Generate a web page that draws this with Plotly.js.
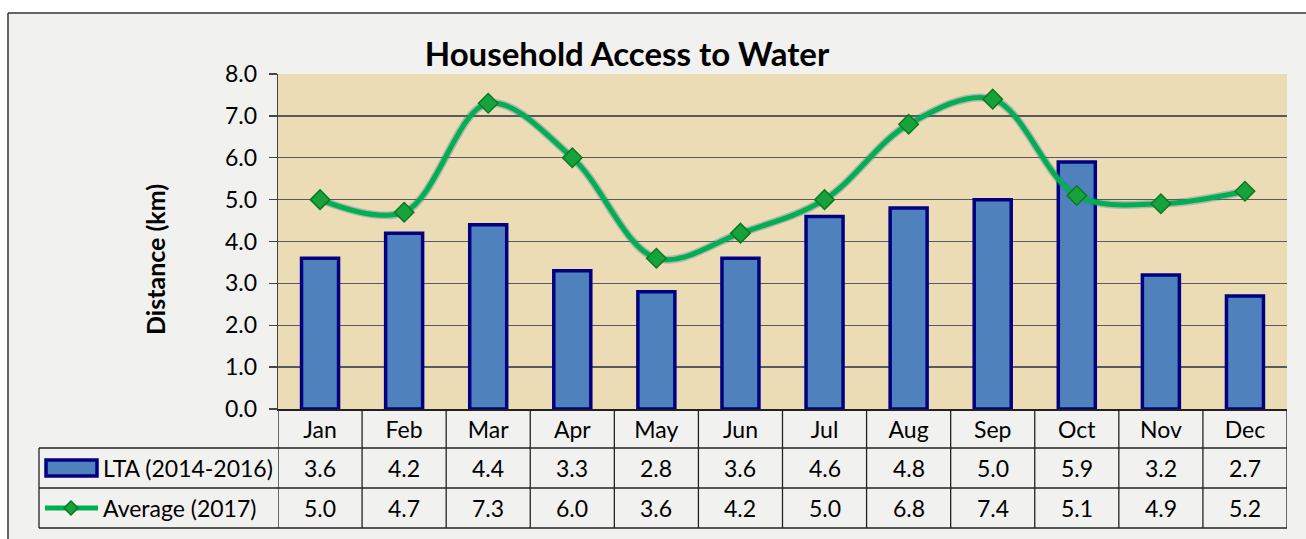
<!DOCTYPE html>
<html>
<head>
<meta charset="utf-8">
<script src="https://cdn.plot.ly/plotly-3.0.1.min.js"></script>
<style>html,body{margin:0;padding:0;background:#fff;}#chart{width:1306px;height:539px;}</style>
</head>
<body>
<div id="chart"></div>
<script>
const months = ["Jan","Feb","Mar","Apr","May","Jun","Jul","Aug","Sep","Oct","Nov","Dec"];
const ltaValues = [3.6,4.2,4.4,3.3,2.8,3.6,4.6,4.8,5.0,5.9,3.2,2.7];
const avgValues = [5.0,4.7,7.3,6.0,3.6,4.2,5.0,6.8,7.4,5.1,4.9,5.2];
const ltaName = "LTA (2014-2016)";
const avgName = "Average (2017)";
const chartTitle = "Household Access to Water";
const yTitle = "Distance (km)";

const W = 1306, H = 539;
const L = 278, R = 19, T = 74, B = 130;
const plotW = W - L - R, plotH = H - T - B;
const px2x = p => (p - L) / plotW;
const py2y = p => (H - B - p) / plotH;

const FONT = "Lato, 'Open Sans', sans-serif";
const FS = 23;
const lineCol = "#222222";

const traces = [
  {
    type: "bar", x: months, y: ltaValues, name: ltaName, width: 0.44,
    marker: {color: "#4F81BD", line: {color: "#000080", width: 3.5}},
    hoverinfo: "skip", showlegend: false
  },
  {
    type: "scatter", mode: "lines", x: months, y: avgValues,
    line: {color: "rgba(70,110,170,0.35)", width: 8, shape: "spline", smoothing: 1},
    hoverinfo: "skip", showlegend: false
  },
  {
    type: "scatter", mode: "lines+markers", x: months, y: avgValues, name: avgName,
    line: {color: "#00B050", width: 5, shape: "spline", smoothing: 1},
    marker: {symbol: "diamond", size: 15, color: "#16A23C", line: {color: "#0A7A1E", width: 1.5}},
    hoverinfo: "skip", showlegend: false
  }
];

const shapes = [];
const annotations = [];
shapes.push({type:"rect", xref:"paper", yref:"paper", x0:px2x(-5), x1:px2x(W+5), y0:py2y(13), y1:py2y(-5), fillcolor:"#ffffff", line:{width:0}, layer:"below"});
shapes.push({type:"rect", xref:"paper", yref:"paper", x0:px2x(-5), x1:px2x(8), y0:py2y(H+5), y1:py2y(-5), fillcolor:"#ffffff", line:{width:0}, layer:"below"});
shapes.push({type:"line", xref:"paper", yref:"paper", x0:px2x(8), x1:px2x(W+5), y0:py2y(13), y1:py2y(13), line:{color:"#333", width:1.5}});
shapes.push({type:"line", xref:"paper", yref:"paper", x0:px2x(8), x1:px2x(8), y0:py2y(13), y1:py2y(H+5), line:{color:"#333", width:1.5}});

const rowTop = 409, r1 = 448, r2 = 488, r3 = 528;
const tableLeft = 39;
[r1, r2, r3].forEach(py => {
  shapes.push({type:"line", xref:"paper", yref:"paper", x0:px2x(tableLeft), x1:1, y0:py2y(py), y1:py2y(py), line:{color:lineCol, width:1.3}});
});
for (let k = 0; k <= months.length; k++) {
  shapes.push({type:"line", xref:"x", yref:"paper", x0:k-0.5, x1:k-0.5, y0:py2y(rowTop), y1:py2y(r3), line:{color:lineCol, width:1.3}});
}
shapes.push({type:"line", xref:"paper", yref:"paper", x0:px2x(tableLeft), x1:px2x(tableLeft), y0:py2y(r1), y1:py2y(r3), line:{color:lineCol, width:1.3}});

shapes.push({type:"rect", xref:"paper", yref:"paper", x0:px2x(46), x1:px2x(97), y0:py2y(476), y1:py2y(460), fillcolor:"#4F81BD", line:{color:"#000080", width:3.5}});
shapes.push({type:"line", xref:"paper", yref:"paper", x0:px2x(45), x1:px2x(98), y0:py2y(508), y1:py2y(508), line:{color:"#00B050", width:5}});
{
  const cx = 71, cy = 508, s = 7;
  const p = (a,b)=>`${px2x(a)},${py2y(b)}`;
  shapes.push({type:"path", xref:"paper", yref:"paper",
    path:`M${p(cx,cy-s)} L${p(cx+s,cy)} L${p(cx,cy+s)} L${p(cx-s,cy)} Z`,
    fillcolor:"#16A23C", line:{color:"#0A7A1E", width:1.5}});
}
annotations.push({xref:"paper", yref:"paper", x:px2x(101), y:py2y(468), xanchor:"left", yanchor:"middle", text:ltaName, showarrow:false, font:{family:FONT, size:FS, color:"#000"}});
annotations.push({xref:"paper", yref:"paper", x:px2x(101), y:py2y(508), xanchor:"left", yanchor:"middle", text:avgName, showarrow:false, font:{family:FONT, size:FS, color:"#000"}});
// y-axis title, placed where the reference centres it
annotations.push({xref:"paper", yref:"paper", x:px2x(155), y:py2y(260), xanchor:"center", yanchor:"middle", textangle:-90, text:"<b>" + yTitle + "</b>", showarrow:false, font:{family:FONT, size:25, color:"#000"}});

months.forEach((m, i) => {
  annotations.push({xref:"x", yref:"paper", x:m, y:py2y(468), xanchor:"center", yanchor:"middle", text:ltaValues[i].toFixed(1), showarrow:false, font:{family:FONT, size:FS, color:"#000"}});
  annotations.push({xref:"x", yref:"paper", x:m, y:py2y(508), xanchor:"center", yanchor:"middle", text:avgValues[i].toFixed(1), showarrow:false, font:{family:FONT, size:FS, color:"#000"}});
});

const layout = {
  width: W, height: H,
  margin: {l: L, r: R, t: T, b: B, pad: 0},
  paper_bgcolor: "#f1f1ef",
  plot_bgcolor: "#ecdcb5",
  font: {family: FONT, color: "#000"},
  title: {text: "<b>" + chartTitle + "</b>", font: {family: FONT, size: 33, color: "#000"}, x: 627 / W, xanchor: "center", y: 1 - 54 / H, yanchor: "middle"},
  showlegend: false,
  xaxis: {
    type: "category", range: [-0.5, 11.5], showgrid: false,
    showline: true, linecolor: "#222", linewidth: 1.5,
    ticks: "", tickfont: {family: FONT, size: FS, color: "#000"},
    ticklabelstandoff: 0, fixedrange: true
  },
  yaxis: {
    range: [0, 8], dtick: 1, tickformat: ".1f",
    showgrid: true, gridcolor: "#5a5a5a", gridwidth: 1.3,
    showline: true, linecolor: "#444", linewidth: 1.3,
    ticks: "outside", ticklen: 8, tickcolor: "#444", tickwidth: 1.3,
    tickfont: {family: FONT, size: FS, color: "#000"},
    ticklabelstandoff: 7,
    zeroline: false,
    fixedrange: true
  },
  shapes: shapes,
  annotations: annotations
};

Plotly.newPlot("chart", traces, layout, {staticPlot: true, displayModeBar: false});
</script>
</body>
</html>
